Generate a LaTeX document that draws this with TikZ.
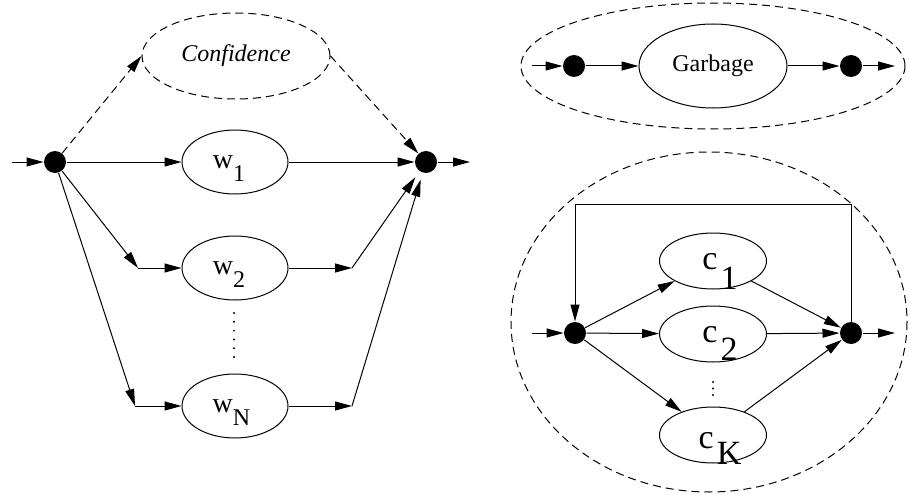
\documentclass[tikz,border=0pt]{standalone}
\usepackage{fontspec}
\setmainfont{Liberation Serif}
\usetikzlibrary{arrows.meta,shapes.geometric}
\newcommand\wlab[2]{\fontsize{28}{28}\selectfont w\raisebox{-13pt}[0pt][0pt]{\fontsize{24}{24}\selectfont #1}\kern#2pt}
\newcommand\clab[3]{\kern14pt\fontsize{34}{34}\selectfont\raisebox{-#3pt}[\height][0pt]{c}\kern3pt\raisebox{-#2pt}[0pt][0pt]{#1}}
\begin{document}
\begin{tikzpicture}[x=1pt,y=-1pt,line width=1pt,
  arr/.style={-{Triangle[length=17pt,width=9pt]}},
  dsh/.style={dash pattern=on 8pt off 5pt},
  dotnode/.style={circle,fill=black,draw=none,minimum size=22pt,inner sep=0pt},
  oval/.style={ellipse,draw,inner sep=0pt,minimum width=#1},
  oval/.default=106pt]
\useasboundingbox (0,0) rectangle (910,495);
% ---------------- left part
\node[dotnode] (L) at (55,162) {};
\node[dotnode] (R) at (426,162) {};
\coordinate (Lin) at (12,162);
\coordinate (Rout) at (470,162);
\node[oval=188pt,minimum height=86pt,dsh] (conf) at (236,56) {\fontsize{24}{24}\selectfont\itshape Confidence};
\node[oval,minimum height=64pt] (w1) at (235,162) {\wlab{1}{12}};
\node[oval,minimum height=64pt] (w2) at (235,268) {\wlab{2}{12}};
\node[oval,minimum height=64pt] (wN) at (235,406) {\wlab{N}{7}};
\coordinate (a2) at (138,268);
\coordinate (aN) at (135,406);
\coordinate (b2) at (352,268);
\coordinate (bN) at (352,406);
\draw[arr] (Lin) -- (L);
\draw[arr] (R) -- (Rout);
\draw[arr,dsh] (L) -- (conf.west);
\draw[arr,dsh] (conf.east) -- (R);
\draw[arr] (L) -- (w1);
\draw[arr] (w1) -- (R);
\draw[arr] (L) -- (a2);
\draw[arr] (a2) -- (w2);
\draw[arr] (L) -- (aN);
\draw[arr] (aN) -- (wN);
\draw[arr] (w2) -- (b2);
\draw[arr] (wN) -- (bN);
\draw[arr,shorten >=7pt] (b2) -- (R);
\draw[arr,shorten >=7pt] (bN) -- (R);
\foreach \y in {313,321.8,330.6,339.4,348.2,357} \fill (234,\y) circle (1.1);
% ---------------- right top
\draw[dsh] (713,66) ellipse [x radius=192, y radius=63];
\node[dotnode] (g1) at (574,66) {};
\node[dotnode] (g2) at (851,66) {};
\coordinate (gin) at (532,66);
\coordinate (gout) at (895,66);
\node[oval=148pt,minimum height=84pt] (garb) at (713,66) {\fontsize{24}{24}\selectfont Garbage};
\draw[arr] (gin) -- (g1);
\draw[arr] (g1) -- (garb);
\draw[arr] (garb) -- (g2);
\draw[arr] (g2) -- (gout);
% ---------------- right bottom
\draw[dsh] (709,322) ellipse [x radius=198, y radius=170];
\node[dotnode] (cL) at (575,333) {};
\node[dotnode] (cR) at (851,333) {};
\coordinate (cin) at (532,333);
\coordinate (cout) at (895,333);
\coordinate (loopR) at (851,204);
\coordinate (loopL) at (575,204);
\node[oval=107pt,minimum height=56pt] (c1) at (713,261) {\clab{1}{20}{0}};
\node[oval=107pt,minimum height=56pt] (c2) at (713,334) {\clab{2}{18}{0}};
\node[oval=107pt,minimum height=56pt] (cK) at (713,435) {\clab{K}{21}{5}};
\draw[arr] (cin) -- (cL);
\draw[arr] (cR) -- (cout);
\draw[arr] (cR.center) -- (loopR) -- (loopL) -- (cL);
\draw[arr] (cL) -- (c1);
\draw[arr] (cL) -- (c2);
\draw[arr] (cL) -- (cK);
\draw[arr] (c1) -- (cR);
\draw[arr] (c2) -- (cR);
\draw[arr] (cK) -- (cR);
\foreach \y in {382,388.5,395} \fill (713,\y) circle (1.1);
\end{tikzpicture}
\end{document}
